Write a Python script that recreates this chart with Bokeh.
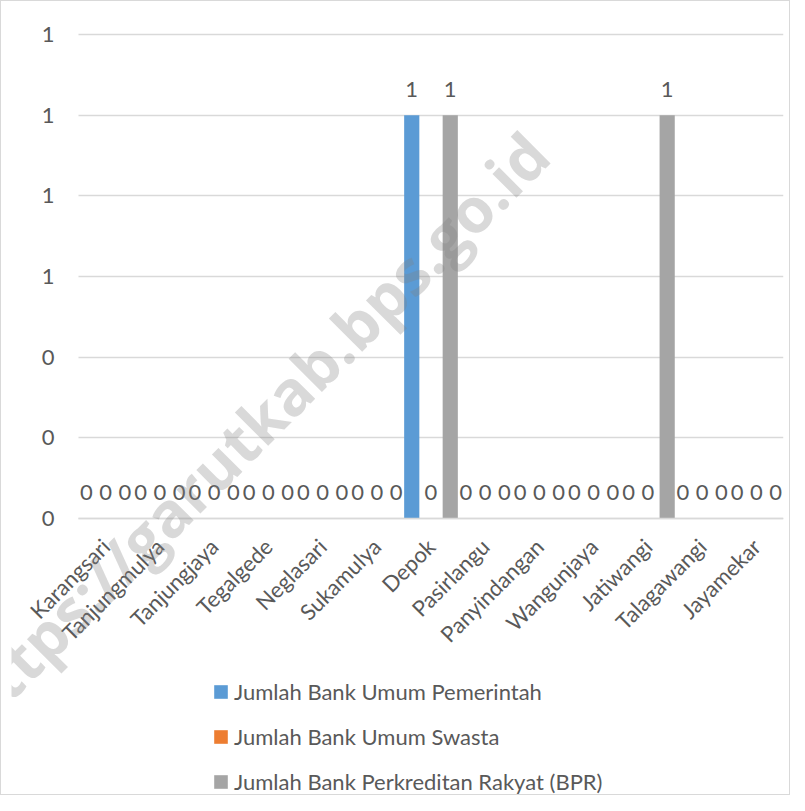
import math
from bokeh.plotting import figure
from bokeh.models import (ColumnDataSource, Range1d, FixedTicker,
                          NumeralTickFormatter, CustomJSTickFormatter,
                          Legend, LegendItem, Label)
from bokeh.transform import dodge
from bokeh.core.properties import value
from bokeh.embed import file_html
from bokeh.resources import INLINE

categories = ["Karangsari", "Tanjungmulya", "Tanjungjaya", "Tegalgede", "Neglasari",
              "Sukamulya", "Depok", "Pasirlangu", "Panyindangan", "Wangunjaya",
              "Jatiwangi", "Talagawangi", "Jayamekar"]
bank_pemerintah = [0, 0, 0, 0, 0, 0, 1, 0, 0, 0, 0, 0, 0]
bank_swasta = [0, 0, 0, 0, 0, 0, 0, 0, 0, 0, 0, 0, 0]
bank_bpr = [0, 0, 0, 0, 0, 0, 1, 0, 0, 0, 1, 0, 0]
series_names = ["Jumlah Bank Umum Pemerintah", "Jumlah Bank Umum Swasta",
                "Jumlah Bank Perkreditan Rakyat (BPR)"]
series_colors = ["#5B9BD5", "#ED7D31", "#A5A5A5"]
y_ticks = [0, 0.2, 0.4, 0.6, 0.8, 1.0, 1.2]
watermark = "https://garutkab.bps.go.id"

FONT = "Lato"
FS = "22px"
TXT = "#595959"
GRID = "#D9D9D9"

n = len(categories)
centers = [i + 0.5 for i in range(n)]

src = ColumnDataSource(dict(
    xc=centers,
    s0=bank_pemerintah, s1=bank_swasta, s2=bank_bpr,
    l0=[str(v) for v in bank_pemerintah],
    l1=[str(v) for v in bank_swasta],
    l2=[str(v) for v in bank_bpr],
))

# plot frame covers nearly the whole canvas; the category block spans [0, n]
# and the value axis 0..1.2 occupies the reference plot area
BORDER_TOP = 8
FRAME_W, FRAME_H = 772, 795 - BORDER_TOP
CAT_PX = 705 / n
VAL_PX = 484 / 1.2
X0 = n - FRAME_W / CAT_PX
Y_TOP = 1.2 + (33 - 8 - BORDER_TOP + 8) / VAL_PX
Y_BOTTOM = Y_TOP - FRAME_H / VAL_PX

p = figure(x_range=Range1d(X0, n), y_range=Range1d(Y_BOTTOM, Y_TOP),
           width=790, height=795, output_backend="svg", toolbar_location=None,
           min_border_left=10, min_border_right=8, min_border_top=BORDER_TOP,
           min_border_bottom=0)
p.outline_line_color = None
p.background_fill_color = "white"
p.border_fill_color = "white"

# horizontal gridlines limited to the category block
p.xgrid.grid_line_color = None
yg = p.ygrid[0]
if "cross_bounds" in yg.properties():
    yg.ticker = FixedTicker(ticks=y_ticks)
    yg.cross_bounds = (0, n)
    yg.grid_line_color = GRID
    yg.grid_line_width = 1.5
else:
    yg.grid_line_color = None
    gsrc = ColumnDataSource(dict(y=y_ticks, x0=[0] * len(y_ticks), x1=[n] * len(y_ticks)))
    p.segment(x0="x0", x1="x1", y0="y", y1="y", source=gsrc,
              line_color=GRID, line_width=1.5)

offsets = [-0.355, 0.0, 0.355]
renderers = []
for i, off in enumerate(offsets):
    r = p.vbar(x=dodge("xc", off), top="s%d" % i, width=0.28,
               source=src, color=series_colors[i], line_color=None)
    renderers.append(r)
    p.text(x=dodge("xc", off), y="s%d" % i, text="l%d" % i,
           source=src, text_align="center", text_baseline="middle", y_offset=-26,
           text_font=value(FONT), text_font_size=FS, text_color=TXT)

p.yaxis.fixed_location = 0
p.yaxis.ticker = FixedTicker(ticks=y_ticks)
p.yaxis.formatter = NumeralTickFormatter(format="0")
p.yaxis.axis_line_color = None
p.yaxis.major_tick_line_color = None
p.yaxis.major_tick_out = 0
p.yaxis.minor_tick_line_color = None
p.yaxis.major_label_standoff = 24

p.xaxis.fixed_location = 0
p.xaxis.bounds = (0, n)
p.xaxis.ticker = FixedTicker(ticks=centers)
p.xaxis.formatter = CustomJSTickFormatter(args=dict(names=categories),
                                          code="return names[Math.floor(tick)];")
p.xaxis.axis_line_color = GRID
p.xaxis.axis_line_width = 1.5
p.xaxis.major_tick_line_color = None
p.xaxis.major_tick_out = 0
p.xaxis.minor_tick_line_color = None
p.xaxis.major_label_orientation = math.pi / 4
p.xaxis.major_label_standoff = 24
for ax in (p.xaxis, p.yaxis):
    ax.major_label_text_font = FONT
    ax.major_label_text_font_size = FS
    ax.major_label_text_color = TXT

legend = Legend(items=[LegendItem(label=series_names[i], renderers=[renderers[i]])
                       for i in range(3)],
                orientation="vertical", location=(201, 1))
legend.label_text_font = FONT
legend.label_text_font_size = FS
legend.label_text_color = TXT
legend.glyph_width = 17
legend.glyph_height = 17
legend.spacing = 18
legend.padding = 0
legend.margin = 0
legend.label_standoff = 5
legend.border_line_color = None
legend.background_fill_alpha = 0
p.add_layout(legend)

wm = Label(x=3.17, y=0.22, text=watermark, angle=math.radians(45),
           text_align="center", text_baseline="middle",
           text_font="Open Sans", text_font_style="bold", text_font_size="62px",
           text_color="#808080", text_alpha=0.3)
p.add_layout(wm)

p.styles = {"border": "1px solid #D9D9D9"}

open("out.html", "w").write(file_html(p, INLINE))
